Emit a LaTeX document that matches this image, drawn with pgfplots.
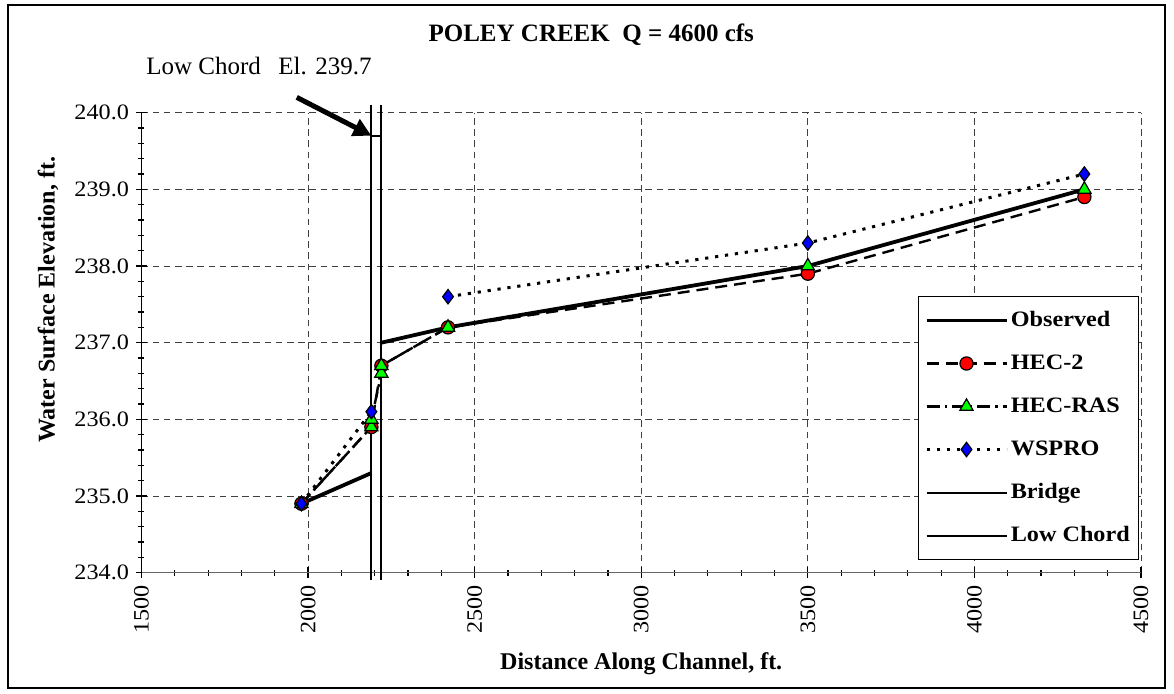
\documentclass[border=0pt]{standalone}
\usepackage{fontspec}
\setmainfont{Liberation Serif}
\newfontfamily\widefont{Liberation Serif}[FakeStretch=1.1]
\usepackage{pgfplots}
\pgfplotsset{compat=1.18}
\usetikzlibrary{arrows.meta}
\definecolor{xred}{RGB}{255,0,0}
\definecolor{xgreen}{RGB}{0,255,0}
\definecolor{xblue}{RGB}{0,0,255}
\begin{document}
\begin{tikzpicture}
\path[use as bounding box] (-70.75pt,-60.65pt) rectangle (516.25pt,286.35pt);
\draw[line width=0.6pt] (-66.75pt,-57.65pt) rectangle (511.75pt,283.85pt);
\begin{axis}[
  at={(0pt,0pt)}, anchor=south west,
  scale only axis, width=499.75pt, height=230pt,
  xmin=1500, xmax=4500, ymin=234, ymax=240,
  xtick={1500,2000,...,4500}, ytick={234,235,...,240},
  minor x tick num=4, minor y tick num=4,
  axis x line*=bottom, axis y line*=left,
  axis line style={-, line width=0.7pt},
  x axis line style={black!60},
  tick align=center, major tick length=5.5pt, minor tick length=3pt,
  tick style={black, line width=0.6pt},
  grid=major,
  major grid style={dash pattern=on 3.3pt off 2.3pt, line width=0.5pt, black!75},
  clip=false,
  unbounded coords=jump,
  /pgf/number format/assume math mode=true,
  xticklabel style={font=\widefont\fontsize{11}{13}\selectfont, rotate=90, anchor=east, /pgf/number format/1000 sep={}},
  yticklabel style={font=\widefont\fontsize{11}{13}\selectfont, /pgf/number format/fixed, /pgf/number format/fixed zerofill, /pgf/number format/precision=1},
  xlabel={Distance Along Channel, ft.},
  ylabel={Water Surface Elevation, ft.},
  xlabel style={font=\bfseries\fontsize{12}{14}\selectfont, at={(axis description cs:0.5,-0.21)}, anchor=base},
  ylabel style={font=\bfseries\fontsize{12}{14}\selectfont, at={(axis description cs:-0.0935,0.593)}, anchor=center},
  title={POLEY CREEK\ \ Q = 4600 cfs},
  title style={font=\bfseries\fontsize{12.5}{15}\selectfont, at={(axis description cs:0.45,1.129)}, anchor=base},
  legend style={at={(axis description cs:0.7769,0.6015)}, anchor=north west, draw=black, line width=0.6pt,
    font=\widefont\bfseries\fontsize{11}{13}\selectfont, row sep=8.6pt, inner xsep=3pt, inner ysep=5.5pt,
    nodes={inner sep=1.2pt, text height=8pt, text depth=2.5pt}},
  legend cell align=left,
  legend image code/.code={\draw[mark repeat=2,mark phase=2,#1] plot coordinates {(0pt,0pt) (20pt,0pt) (40pt,0pt)};},
]
\addplot[black, line width=1.9pt] coordinates {(1980,234.9) (2190,235.3) (2205,nan) (2220,237.0) (2420,237.2) (3500,238.0) (4330,239.0)};
\addlegendentry{Observed}
\addplot[black, line width=1.2pt, dash pattern=on 6pt off 3.5pt, mark=*, mark size=3.3pt, mark options={solid, fill=xred, draw=black, line width=0.6pt}] coordinates {(1980,234.9) (2190,235.9) (2220,236.7) (2420,237.2) (3500,237.9) (4330,238.9)};
\addlegendentry{HEC-2}
\addplot[black, line width=1.2pt, dash pattern=on 6.5pt off 2.5pt on 1.2pt off 2.5pt, mark=triangle*, mark size=3.8pt, mark options={solid, fill=xgreen, draw=black, line width=0.6pt}] coordinates {(1980,234.9) (2190,235.9) (2190,236.0) (2220,236.6) (2220,236.7) (2420,237.2) (3500,238.0) (4330,239.0)};
\addlegendentry{HEC-RAS}
\addplot[black, line width=1.5pt, dash pattern=on 1.6pt off 3.4pt, mark=diamond*, mark size=3.6pt, mark options={solid, fill=xblue, draw=black, line width=0.6pt}] coordinates {(1980,234.9) (2190,236.1) (2300,nan) (2420,237.6) (3500,238.3) (4330,239.2)};
\addlegendentry{WSPRO}
\addplot[black, line width=1pt] coordinates {(2190,233.9) (2190,240.1) (2205,nan) (2220,240.1) (2220,233.9)};
\addlegendentry{Bridge}
\addplot[black, line width=1pt] coordinates {(2190,239.7) (2220,239.7)};
\addlegendentry{Low Chord}
\draw[line width=2.5pt, -{Triangle[length=9pt,width=9pt]}] (axis cs:1966,240.2) -- (axis cs:2190,239.7);
\node[anchor=base west, font=\fontsize{12.5}{15}\selectfont, inner sep=0pt] at (axis description cs:0.0045,1.084) {Low Chord\hspace{0.7em}El. 239.7};
\end{axis}
\end{tikzpicture}
\end{document}
